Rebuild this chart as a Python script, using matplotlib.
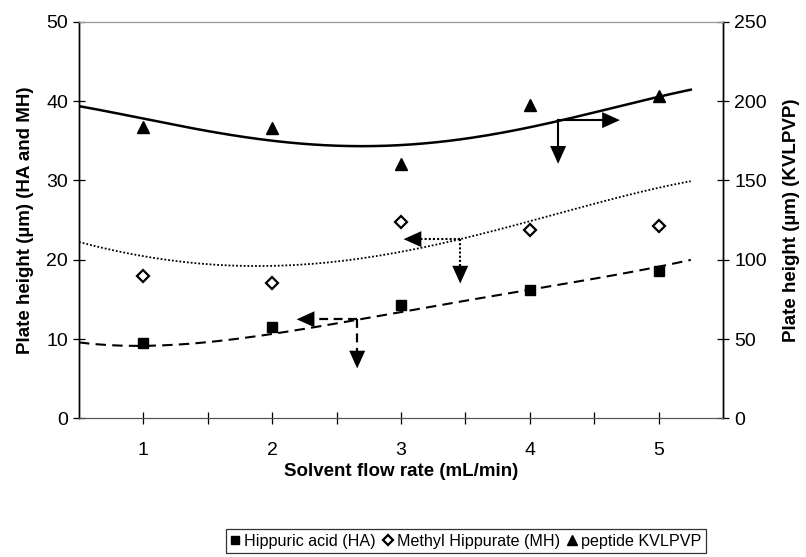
import numpy as np
import matplotlib
matplotlib.use('Agg')
import matplotlib.pyplot as plt
from matplotlib.ticker import MultipleLocator, FixedLocator

plt.rcParams['font.family'] = ['Liberation Sans', 'DejaVu Sans']

# measured points
flow = [1, 2, 3, 4, 5]
ha = [9.45, 11.5, 14.3, 16.2, 18.6]          # left axis
mh = [17.9, 17.1, 24.8, 23.7, 24.3]          # left axis
kvlpvp = [183.5, 183.0, 160.5, 197.5, 203.0]  # right axis

# fitted curves at these flow rates
fit_x = [0.5, 1.0, 1.5, 2.0, 2.5, 3.0, 3.5, 4.0, 4.5, 5.0, 5.25]
ha_fit = [9.6, 9.1, 9.7, 10.6, 12.0, 13.4, 14.85, 16.2, 17.65, 19.1, 20.0]
mh_fit = [22.1, 20.8, 19.4, 18.9, 19.8, 21.1, 22.9, 24.9, 26.9, 29.0, 30.0]
kvlpvp_fit = [197, 188.5, 181, 175.5, 172.5, 171.5, 175.5, 184.5, 193, 202, 207.5]

# arrows: start point, tip of left/right arrow, tip of down arrow (left axis units)
kvl_arrow = [(4.22, 37.6), (4.70, 37.6), (4.22, 32.1)]
mh_arrow = [(3.46, 22.6), (3.02, 22.6), (3.46, 17.0)]
ha_arrow = [(2.66, 12.5), (2.19, 12.5), (2.66, 6.3)]


def smooth(xs, ys, deg=4):
    # trendline through the read points
    p = np.polyfit(xs, ys, deg)
    xx = np.linspace(xs[0], xs[-1], 200)
    return xx, np.polyval(p, xx)


fig = plt.figure(figsize=(8.06, 5.57), dpi=100)
ax = fig.add_axes([0.098, 0.2487, 0.799, 0.7123])
ax2 = ax.twinx()

ax.set_xlim(0.5, 5.5)
ax.set_ylim(0, 50)
ax2.set_ylim(0, 250)

xx, yy = smooth(fit_x, ha_fit)
ax.plot(xx, yy, color='k', lw=1.5, ls=(0, (5, 3)))
xx, yy = smooth(fit_x, mh_fit)
ax.plot(xx, yy, color='k', lw=1.3, ls=(0, (1, 1.1)))
xx, yy = smooth(fit_x, kvlpvp_fit)
ax2.plot(xx, yy, color='k', lw=1.8, ls='-')

ax.plot(flow, ha, ls='none', marker='s', ms=7.5, color='k', label='Hippuric acid (HA)')
ax.plot(flow, mh, ls='none', marker='D', ms=6.3, mfc='white', mec='k', mew=1.6,
        label='Methyl Hippurate (MH)')
ax2.plot(flow, kvlpvp, ls='none', marker='^', ms=9, color='k', label='peptide KVLPVP')

# shafts in the curve's line style, filled heads drawn on top
head = dict(arrowstyle='-|>,head_length=0.8,head_width=0.36', fc='k', ec='none',
            lw=0, shrinkA=0, shrinkB=0, mutation_scale=16)
to_px = ax.transData
for arr, ls, lw in [(kvl_arrow, '-', 1.5), (mh_arrow, (0, (1, 1)), 1.5),
                    (ha_arrow, (0, (4, 2.5)), 1.6)]:
    start = arr[0]
    for tip in arr[1:]:
        p0 = to_px.transform(start)
        p1 = to_px.transform(tip)
        d = p1 - p0
        end = p1 - d / np.hypot(*d) * 7
        end = to_px.inverted().transform(end)
        ax.plot([start[0], end[0]], [start[1], end[1]], color='k', lw=lw, ls=ls)
        ax.annotate('', xy=tip, xytext=start, arrowprops=head)

ax.xaxis.set_major_locator(FixedLocator([1, 2, 3, 4, 5]))
ax.xaxis.set_minor_locator(FixedLocator([1.5, 2.5, 3.5, 4.5]))
ax.yaxis.set_major_locator(MultipleLocator(10))
ax2.yaxis.set_major_locator(MultipleLocator(50))

for a in (ax, ax2):
    a.tick_params(which='both', direction='inout', length=8, width=0.9, labelsize=14,
                  colors='k')
ax.tick_params(axis='x', pad=13)
ax.tick_params(axis='y', pad=4)
ax2.tick_params(axis='y', pad=4)

for a in (ax, ax2):
    a.spines['top'].set_color('#999999')
    a.spines['top'].set_linewidth(0.8)
    a.spines['bottom'].set_color('#555555')
    a.spines['left'].set_linewidth(1.0)
    a.spines['right'].set_linewidth(1.0)

ax.set_xlabel('Solvent flow rate (mL/min)', fontsize=13.5, fontweight='bold', labelpad=3)
ax.set_ylabel('Plate height (µm) (HA and MH)', fontsize=13.5, fontweight='bold', labelpad=9)
ax2.set_ylabel('Plate height (µm) (KVLPVP)', fontsize=13.5, fontweight='bold', labelpad=12)

h1, l1 = ax.get_legend_handles_labels()
h2, l2 = ax2.get_legend_handles_labels()
leg = fig.legend(h1 + h2, l1 + l2, loc='center', bbox_to_anchor=(0.578, 0.0285),
                 ncol=3, fontsize=11.6, frameon=True, fancybox=False, edgecolor='k',
                 handlelength=0.6, handletextpad=0.25, columnspacing=0.45,
                 borderpad=0.3, borderaxespad=0, markerscale=0.75)
leg.get_frame().set_linewidth(0.9)

fig.savefig('out.png', dpi=100)
